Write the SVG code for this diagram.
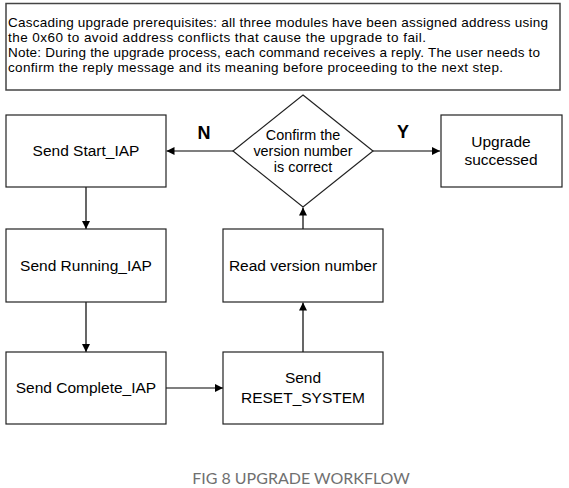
<svg xmlns="http://www.w3.org/2000/svg" width="569" height="488" viewBox="0 0 569 488">
<style>
.box{fill:#fff;stroke:#222;stroke-width:1.2}
.t{font-family:"Liberation Sans",Arial,sans-serif;font-size:15.5px;fill:#000;text-anchor:middle}
.dt{font-family:"Liberation Sans",Arial,sans-serif;font-size:14.4px;fill:#000;text-anchor:middle}
.note{font-family:"Liberation Sans",Arial,sans-serif;font-size:13.5px;fill:#000}
.lbl{font-family:"Liberation Sans",Arial,sans-serif;font-size:18px;font-weight:bold;fill:#000;text-anchor:middle}
.cap{font-family:Lato,"Liberation Sans",sans-serif;font-size:16px;fill:#707070;text-anchor:middle}
.c{stroke:#000;stroke-width:1.2;fill:none;marker-end:url(#ah)}
</style>
<defs>
<marker id="ah" viewBox="0 0 10 10" refX="10" refY="5" markerWidth="8" markerHeight="8" markerUnits="userSpaceOnUse" orient="auto">
<path d="M0,0 L10,5 L0,10 z" fill="#000"/>
</marker>
</defs>
<rect width="569" height="488" fill="#fff"/>
<g id="note">
<rect x="6" y="3.5" width="554" height="86.5" fill="#fff" stroke="#444" stroke-width="1.5"/>
<text class="note" x="8" y="27" textLength="540" lengthAdjust="spacing">Cascading upgrade prerequisites: all three modules have been assigned address using</text>
<text class="note" x="8" y="42" textLength="418" lengthAdjust="spacing">the 0x60 to avoid address conflicts that cause the upgrade to fail.</text>
<text class="note" x="8" y="57" textLength="532" lengthAdjust="spacing">Note: During the upgrade process, each command receives a reply. The user needs to</text>
<text class="note" x="8" y="72" textLength="495" lengthAdjust="spacing">confirm the reply message and its meaning before proceeding to the next step.</text>
</g>
<g id="connectors">
<line class="c" x1="233" y1="151" x2="166.5" y2="151"/>
<line class="c" x1="373" y1="151" x2="440" y2="151"/>
<line class="c" x1="86" y1="187" x2="86" y2="229"/>
<line class="c" x1="86" y1="302" x2="86" y2="352"/>
<line class="c" x1="166" y1="388" x2="223" y2="388"/>
<line class="c" x1="303" y1="352" x2="303" y2="302.5"/>
<line class="c" x1="303" y1="229" x2="303" y2="207.5"/>
<text class="lbl" x="204" y="139">N</text>
<text class="lbl" x="403" y="138">Y</text>
</g>
<g id="start">
<rect class="box" x="6" y="115" width="160" height="72"/>
<text class="t" x="86" y="156">Send Start_IAP</text>
</g>
<g id="decision">
<polygon points="303,95 373,151 303,207 233,151" fill="#fff" stroke="#222" stroke-width="1.2"/>
<text class="dt" x="303" y="140">Confirm the</text>
<text class="dt" x="303" y="156">version number</text>
<text class="dt" x="303" y="172">is correct</text>
</g>
<g id="success">
<rect class="box" x="441" y="115" width="121" height="72"/>
<text class="t" x="501" y="147">Upgrade</text>
<text class="t" x="501" y="165">successed</text>
</g>
<g id="running">
<rect class="box" x="6" y="229" width="160" height="73"/>
<text class="t" x="86" y="271">Send Running_IAP</text>
</g>
<g id="readver">
<rect class="box" x="223" y="229" width="160" height="73"/>
<text class="t" x="303" y="271">Read version number</text>
</g>
<g id="complete">
<rect class="box" x="6" y="352" width="160" height="72"/>
<text class="t" x="86" y="393">Send Complete_IAP</text>
</g>
<g id="reset">
<rect class="box" x="223" y="352" width="160" height="72"/>
<text class="t" x="303" y="383">Send</text>
<text class="t" x="303" y="403">RESET_SYSTEM</text>
</g>
<text class="cap" x="301" y="484">FIG 8 UPGRADE WORKFLOW</text>
</svg>
